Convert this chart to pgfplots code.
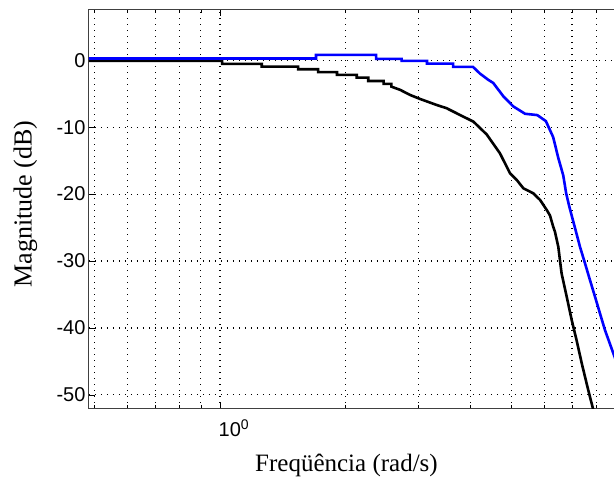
\documentclass[border=0pt]{standalone}
\usepackage{fontspec}
\setmainfont{Liberation Serif}
\newfontfamily\arialfont{Liberation Sans}
\usepackage{pgfplots}
\pgfplotsset{compat=1.18}
\begin{document}
\begin{tikzpicture}
\begin{axis}[
  name=ax,
  scale only axis,
  width=547.5pt, height=399pt,
  xmode=log, log basis x=10,
  xmin=0.4847, xmax=10,
  ymin=-52.1, ymax=7.5,
  xtick={1}, xticklabels={10\textsuperscript{0}},
  minor xtick={0.5,0.6,0.7,0.8,0.9,2,3,4,5,6,7,8,9},
  ytick={-50,-40,-30,-20,-10,0},
  yticklabels={-50,-40,-30,-20,-10,0},
  tick label style={font=\arialfont\fontsize{20}{24}\selectfont},
  xticklabel style={anchor=base, yshift=-27.7pt, xshift=14pt},
  grid=both,
  major tick length=6pt, minor tick length=3.5pt,
  axis line style={line width=1pt, black!75},
  every tick/.style={black, line width=0.8pt},
  grid style={black, line width=1.1pt, dash pattern=on 1.1pt off 4.9pt},
  major grid style={black, line width=1.1pt, dash pattern=on 1.1pt off 4.9pt},
  minor grid style={black, line width=1.1pt, dash pattern=on 1.1pt off 4.9pt},
  xlabel={Freqüência (rad/s)},
  ylabel={Magnitude (dB)},
  xlabel style={font=\fontsize{25}{30}\selectfont, at={(axis description cs:0.4703,-0.1571)}, anchor=base},
  ylabel style={font=\fontsize{26}{30}\selectfont, at={(axis description cs:-0.1047,0.514)}, anchor=base},
]
\addplot[black, line width=2.6pt, line join=miter] coordinates {
(0.4847,-0.1) (1.012,-0.1) (1.012,-0.55) (1.26,-0.55) (1.26,-0.96) (1.54,-0.96)
(1.54,-1.35) (1.72,-1.35) (1.72,-1.79) (1.91,-1.79) (1.91,-2.2) (2.13,-2.2)
(2.13,-2.6) (2.27,-2.6) (2.27,-3.1) (2.47,-3.1) (2.47,-3.54) (2.58,-3.54)
(2.58,-3.95) (2.71,-4.44) (2.86,-5.19) (3.02,-5.78) (3.31,-6.68) (3.50,-7.17)
(3.77,-8.18) (4.06,-9.18) (4.37,-11.1) (4.70,-13.9) (4.97,-16.89) (5.16,-17.9)
(5.35,-19.13) (5.65,-19.88) (5.87,-20.88) (6.09,-22.38) (6.20,-23.2) (6.31,-24.87)
(6.37,-25.6) (6.49,-27.86) (6.61,-31.84) (6.80,-35.34) (6.99,-38.82) (7.18,-41.81)
(7.39,-45.29) (7.66,-49.28) (7.88,-52.27) (7.95,-53.5)
};
\addplot[blue, line width=2.6pt, line join=miter] coordinates {
(0.4847,0.25) (1.70,0.25) (1.70,0.8) (2.37,0.8) (2.37,0.2) (2.73,0.2)
(2.73,-0.1) (3.14,-0.1) (3.14,-0.5) (3.63,-0.5) (3.63,-1.0) (4.05,-1.0)
(4.21,-2.0) (4.40,-2.9) (4.53,-3.4) (4.79,-5.4) (5.06,-6.9) (5.40,-8.0)
(5.78,-8.2) (6.06,-9.1) (6.31,-11.5) (6.49,-14.6) (6.67,-17.2) (6.78,-19.9)
(6.90,-21.9) (7.08,-24.5) (7.32,-27.9) (7.52,-30.3) (7.73,-32.8) (7.95,-35.3)
(8.17,-37.8) (8.40,-40.3) (8.80,-43.8) (9.0,-45.5)
};
\end{axis}
\pgfresetboundingbox
\path ([shift={(-89pt,-68pt)}]ax.south west) rectangle ([shift={(525pt,409pt)}]ax.south west);
\end{tikzpicture}
\end{document}
